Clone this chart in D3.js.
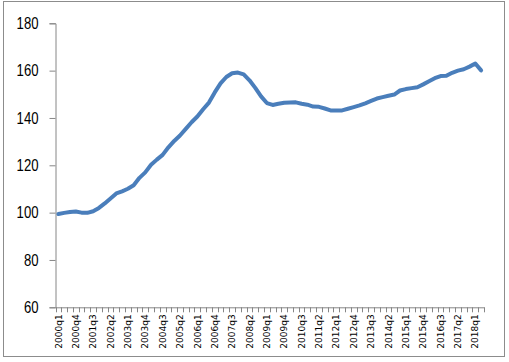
<!DOCTYPE html>
<html>
<head>
<meta charset="utf-8">
<script src="https://cdn.jsdelivr.net/npm/d3@7"></script>
<style>
  body { margin: 0; background: #fff; }
  svg { display: block; }
</style>
</head>
<body>
<div id="chart"></div>
<script>
// quarters 2000q1 .. 2018q2
const years = d3.range(2000, 2019)
const quarters = years.flatMap(y => [1, 2, 3, 4].map(q => `${y}q${q}`)).slice(0, 74)

const values = [
  99.4, 99.9, 100.3, 100.5, 100.0, 99.9, 100.6, 102.0, 103.9, 106.0,
  108.1, 109.0, 110.1, 111.6, 114.7, 117.0, 120.2, 122.4, 124.4, 127.6,
  130.3, 132.6, 135.4, 138.2, 140.6, 143.7, 146.5, 150.8, 154.6, 157.3,
  158.9, 159.2, 158.4, 155.9, 152.7, 149.1, 146.3, 145.5, 146.0, 146.4,
  146.5, 146.6, 146.0, 145.6, 144.8, 144.7, 144.0, 143.2, 143.2, 143.2,
  143.9, 144.6, 145.3, 146.2, 147.2, 148.2, 148.8, 149.4, 149.9, 151.6,
  152.2, 152.6, 153.0, 154.2, 155.5, 156.8, 157.7, 157.8, 159.1, 160.0,
  160.6, 161.7, 163.0, 160.1
]

const yTicks = [60, 80, 100, 120, 140, 160, 180]

const width = 509
const height = 362
const margin = { top: 23.3, right: 25, bottom: 54.7, left: 55.5 }

const svg = d3.select('#chart').append('svg')
  .attr('width', width)
  .attr('height', height)

// outer frame
svg.append('rect')
  .attr('x', 3.5).attr('y', 1.5)
  .attr('width', 501).attr('height', 355)
  .attr('fill', 'none')
  .attr('stroke', '#8c8c8c')

const x = d3.scaleBand()
  .domain(quarters)
  .range([margin.left, width - margin.right])
  .padding(0)

const y = d3.scaleLinear()
  .domain([60, 180])
  .range([height - margin.bottom, margin.top])

// y axis
const yAxis = svg.append('g')
  .attr('transform', `translate(${margin.left},0)`)
  .call(d3.axisLeft(y).tickValues(yTicks).tickSize(6).tickPadding(11))

yAxis.select('.domain').attr('stroke', '#868686')
yAxis.selectAll('.tick line').attr('stroke', '#868686')
// narrow look: squeeze glyphs to the reference width
yAxis.selectAll('.tick text')
  .attr('fill', '#000')
  .style('font-family', "'Liberation Sans', sans-serif")
  .style('font-size', '16px')
  .attr('textLength', d => String(d).length * 7.3)
  .attr('lengthAdjust', 'spacingAndGlyphs')

// x axis
const xAxis = svg.append('g')
  .attr('transform', `translate(0,${y(60)})`)
  .call(d3.axisBottom(x).tickSize(0).tickFormat(''))

xAxis.select('.domain').attr('stroke', '#868686')
xAxis.selectAll('.tick').remove()

// tick marks at category boundaries
const bounds = quarters.map(q => x(q)).concat([x(quarters[quarters.length - 1]) + x.bandwidth()])
xAxis.selectAll('line.qtick')
  .data(bounds)
  .join('line')
  .attr('class', 'qtick')
  .attr('x1', d => Math.round(d) + 0.5)
  .attr('x2', d => Math.round(d) + 0.5)
  .attr('y1', 0)
  .attr('y2', 5)
  .attr('stroke', '#868686')

// rotated labels every 3rd quarter
xAxis.selectAll('text.qlabel')
  .data(quarters.filter((q, i) => i % 3 === 0))
  .join('text')
  .attr('class', 'qlabel')
  .attr('transform', d => `translate(${x(d) + x.bandwidth() / 2},7) rotate(-90)`)
  .attr('text-anchor', 'end')
  .attr('dy', '0.35em')
  .style('font-family', "'DejaVu Sans', sans-serif")
  .style('font-size', '9px')
  .attr('fill', '#000')
  .text(d => d)

// line
const line = d3.line()
  .x((d, i) => x(quarters[i]) + x.bandwidth() / 2)
  .y(d => y(d))

svg.append('path')
  .datum(values)
  .attr('d', line)
  .attr('fill', 'none')
  .attr('stroke', '#4a7ebb')
  .attr('stroke-width', 4)
  .attr('stroke-linejoin', 'round')
  .attr('stroke-linecap', 'round')
</script>
</body>
</html>
